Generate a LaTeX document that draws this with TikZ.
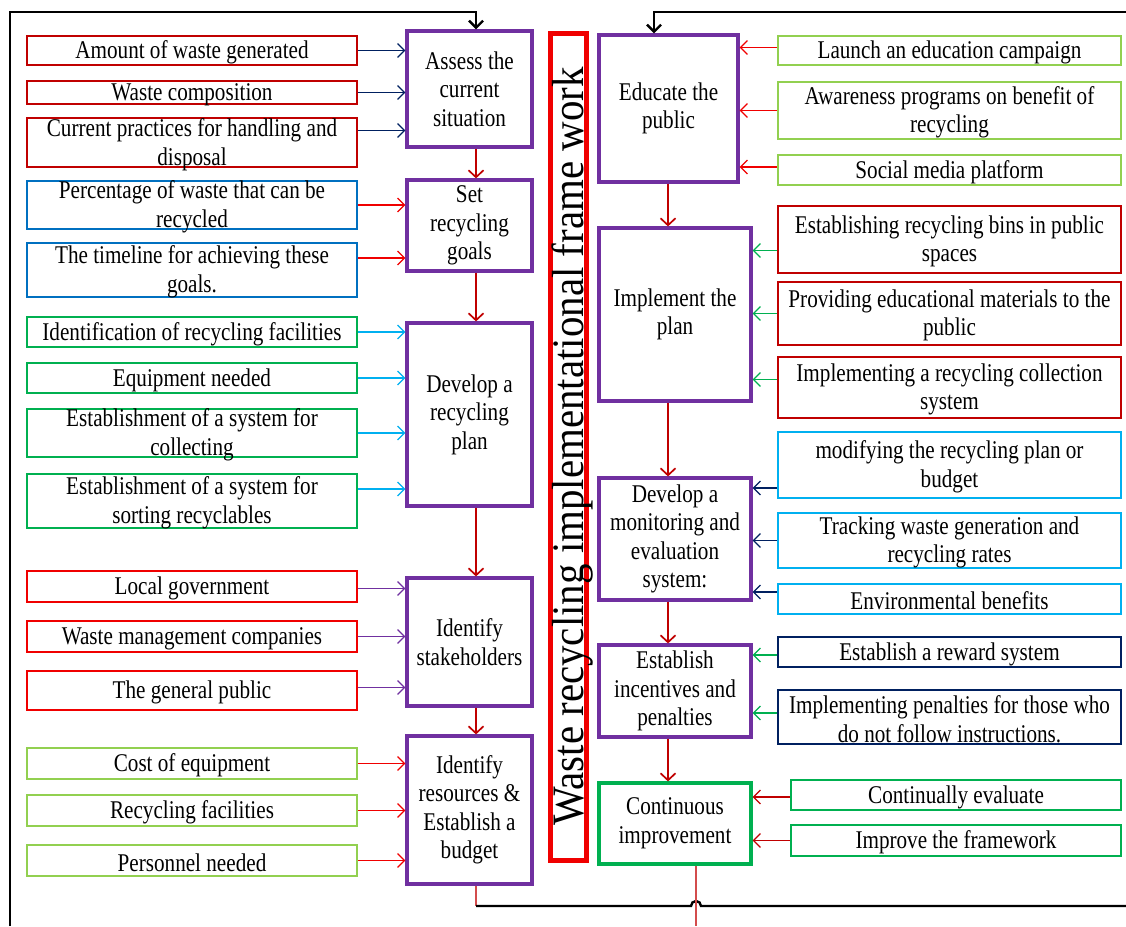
\documentclass[tikz,border=0pt]{standalone}
\usepackage{fontspec}
\setmainfont[FakeStretch=0.83]{Liberation Serif}
\newfontfamily\titlefont[FakeStretch=0.91]{Liberation Serif}
\usepackage{tikz}
\usetikzlibrary{positioning, arrows.meta, calc}
\definecolor{cPurple}{RGB}{112,48,160}
\definecolor{cDRed}{RGB}{192,0,0}
\definecolor{cRed}{RGB}{240,0,0}
\definecolor{cBlue}{RGB}{0,112,192}
\definecolor{cGreen}{RGB}{0,176,80}
\definecolor{cLBlue}{RGB}{0,176,240}
\definecolor{cLGreen}{RGB}{146,208,80}
\definecolor{cNavy}{RGB}{0,32,96}

\begin{document}
\begin{tikzpicture}[
        x=1pt, y=-1pt,
        tx/.style={font=\fontsize{25.5}{28.5}\selectfont, align=center, inner sep=0pt},
        lt/.style={tx, yshift=-2pt},
        sbox/.style={draw=#1, line width=2.8pt, minimum width=330, minimum height=30, inner sep=0pt},
        mbox/.style={draw=cPurple, line width=3.2pt, minimum width=125, inner sep=0pt, tx},
        ttl/.style={draw=cRed, line width=5pt, minimum width=827, minimum height=36, inner sep=0pt,
            font=\titlefont\fontsize{45}{50}\selectfont, text height=30pt, text depth=0pt},
        arr/.style={-{Straight Barb[length=7pt,width=14pt]}, line width=1.2pt},
        marr/.style={-{Straight Barb[length=7pt,width=15pt]}, line width=1.7pt, draw=cDRed},
        frame/.style={line width=2.4pt, draw=black},
        thinl/.style={line width=1.1pt, draw=cDRed!70}
    ]
    \useasboundingbox (0,0) rectangle (1126,926);

    % main steps, left column
    \node[mbox, minimum height=116] (A) at (469.5,89) {Assess the\\current\\situation};
    \node[mbox, minimum height=91] (B) at (469.5,225.5) {Set\\recycling\\goals};
    \node[mbox, minimum height=183] (C) at (469.5,414.5) {Develop a\\recycling\\plan};
    \node[mbox, minimum height=128] (D) at (469.5,642) {Identify\\stakeholders};
    \node[mbox, minimum height=148] (E) at (469.5,810) {Identify\\resources \&\\Establish a\\budget};

    % main steps, right column
    \node[mbox, minimum width=139, minimum height=147] (F) at (668.5,108.5) {Educate the\\public};
    \node[mbox, minimum width=152, minimum height=173] (G) at (675,314.5) {Implement the\\plan};
    \node[mbox, minimum width=152, minimum height=122] (H) at (675,539) {Develop a\\monitoring and\\evaluation\\system:};
    \node[mbox, minimum width=152, minimum height=92] (I) at (675,691) {Establish\\incentives and\\penalties};
    \node[mbox, draw=cGreen, minimum width=152, minimum height=81] (J) at (675,823.5) {Continuous\\improvement};

    \node[ttl, rotate=90] (ttl) at (568,446.5) {Waste recycling implementational frame work};

    % inputs, left side
    \node[sbox=cDRed, minimum height=29, label={[lt]center:{Amount of waste generated}}] (l1) at (192,50.5) {};
    \node[sbox=cDRed, minimum height=23, label={[lt]center:{Waste composition}}] (l2) at (192,92.5) {};
    \node[sbox=cDRed, minimum height=49, label={[lt]center:{Current practices for handling and\\disposal}}] (l3) at (192,142.5) {};
    \node[sbox=cBlue, minimum height=48, label={[lt]center:{Percentage of waste that can be\\recycled}}] (l4) at (192,205) {};
    \node[sbox=cBlue, minimum height=54, label={[lt]center:{The timeline for achieving these\\goals.}}] (l5) at (192,270) {};
    \node[sbox=cGreen, minimum height=30, label={[lt]center:{Identification of recycling facilities}}] (l6) at (192,332) {};
    \node[sbox=cGreen, minimum height=30, label={[lt]center:{Equipment needed}}] (l7) at (192,378) {};
    \node[sbox=cGreen, minimum height=48, label={[lt]center:{Establishment of a system for\\collecting}}] (l8) at (192,433) {};
    \node[sbox=cGreen, minimum height=54, label={[lt]center:{Establishment of a system for\\sorting recyclables}}] (l9) at (192,501) {};
    \node[sbox=cRed, minimum height=31, label={[lt]center:{Local government}}] (l10) at (192,586.5) {};
    \node[sbox=cRed, minimum height=31, label={[lt]center:{Waste management companies}}] (l11) at (192,636.5) {};
    \node[sbox=cRed, minimum height=39, label={[lt]center:{The general public}}] (l12) at (192,690.5) {};
    \node[sbox=cLGreen, minimum height=31, label={[lt]center:{Cost of equipment}}] (l13) at (192,763.5) {};
    \node[sbox=cLGreen, minimum height=31, label={[lt]center:{Recycling facilities}}] (l14) at (192,810.5) {};
    \node[sbox=cLGreen, minimum height=31, label={[lt]center:{Personnel needed}}] (l15) at (192,860.5) {};

    % inputs, right side
    \node[sbox=cLGreen, minimum width=343, minimum height=29, label={[lt]center:{Launch an education campaign}}] (r1) at (949.5,50.5) {};
    \node[sbox=cLGreen, minimum width=343, minimum height=57, label={[lt]center:{Awareness programs on benefit of\\recycling}}] (r2) at (949.5,110.5) {};
    \node[sbox=cLGreen, minimum width=343, minimum height=30, label={[lt]center:{Social media platform}}] (r3) at (949.5,170) {};
    \node[sbox=cDRed, minimum width=343, minimum height=67, label={[lt]center:{Establishing recycling bins in public\\spaces}}] (r4) at (949.5,239.5) {};
    \node[sbox=cDRed, minimum width=343, minimum height=63, label={[lt]center:{Providing educational materials to the\\public}}] (r5) at (949.5,313.5) {};
    \node[sbox=cDRed, minimum width=343, minimum height=61, label={[lt]center:{Implementing a recycling collection\\system}}] (r6) at (949.5,387.5) {};
    \node[sbox=cLBlue, minimum width=343, minimum height=66, label={[lt]center:{modifying the recycling plan or\\budget}}] (r7) at (949.5,465) {};
    \node[sbox=cLBlue, minimum width=343, minimum height=55, label={[lt]center:{Tracking waste generation and\\recycling rates}}] (r8) at (949.5,540.5) {};
    \node[sbox=cLBlue, minimum width=343, minimum height=30, label={[lt]center:{Environmental benefits}}] (r9) at (949.5,599) {};
    \node[sbox=cNavy, minimum width=343, minimum height=30, label={[lt]center:{Establish a reward system}}] (r10) at (949.5,652) {};
    \node[sbox=cNavy, minimum width=343, minimum height=54, label={[lt]center:{Implementing penalties for those who\\do not follow instructions.}}] (r11) at (949.5,717) {};
    \node[sbox=cGreen, minimum height=30, label={[lt]center:{Continually evaluate}}] (r12) at (956,795) {};
    \node[sbox=cGreen, minimum height=31, label={[lt]center:{Improve the framework}}] (r13) at (956,840.5) {};

    \foreach \s/\t/\dy/\c in {l1/A/0/cNavy, l2/A/0/cNavy, l3/A/12/cNavy, l4/B/0/cRed, l5/B/12/cRed,
            l6/C/0/cLBlue, l7/C/0/cLBlue, l8/C/0/cLBlue, l9/C/12/cLBlue,
            l10/D/-2/cPurple, l11/D/0/cPurple, l12/D/3/cPurple, l13/E/0/cRed, l14/E/0/cRed, l15/E/0/cRed} {
        \draw[arr, \c] ([yshift=\dy pt]\s.east) -- ([yshift=\dy pt]\s.east -| \t.west);
    }
    \foreach \s/\t/\dy/\c in {r1/F/3/cRed, r2/F/0/cRed, r3/F/3/cRed, r4/G/-11/cGreen, r5/G/0/cGreen, r6/G/8/cGreen,
            r7/H/-23/cNavy, r8/H/0/cNavy, r9/H/7/cNavy, r10/I/-3/cGreen, r11/I/4/cGreen, r12/J/-2/cDRed, r13/J/0/cDRed} {
        \draw[arr, \c] ([yshift=\dy pt]\s.west) -- ([yshift=\dy pt]\s.west -| \t.east);
    }

    % flow between the steps
    \coordinate (lx) at (476,0);
    \coordinate (rx) at (668,0);
    \foreach \a/\b in {A/B, B/C, C/D, D/E} {
        \draw[marr] (\a.south -| lx) -- (\b.north -| lx);
    }
    \foreach \a/\b in {F/G, G/H, H/I, I/J} {
        \draw[marr] (\a.south -| rx) -- (\b.north -| rx);
    }

    % outer loop
    \coordinate (c1) at (10,926);
    \coordinate (c2) at (10,12);
    \coordinate (c3) at (1126,12);
    \coordinate (c4) at (1126,906);
    \coordinate (fx) at (654,0);
    \coordinate (hop) at (696,906);
    \draw[frame, arr, line width=2.4pt] (c1) -- (c2) -- (c2 -| lx) -- (A.north -| lx);
    \draw[frame, arr, line width=2.4pt] (c3) -- (c3 -| fx) -- (F.north -| fx);
    \draw[thinl] (E.south -| lx) -- (c4 -| lx);
    \draw[frame] (c4 -| lx) -- ([xshift=-5pt]hop) arc[start angle=180, end angle=0, radius=5pt] -- (c4);
    \draw[thinl] (J.south -| hop) -- (hop |- c1);
\end{tikzpicture}
\end{document}
